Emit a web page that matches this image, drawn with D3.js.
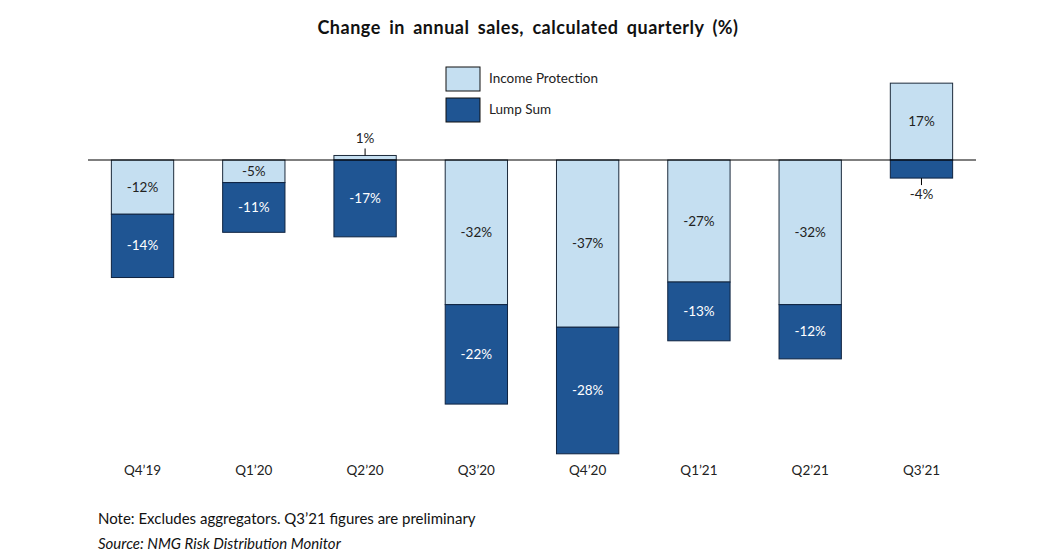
<!DOCTYPE html>
<html>
<head>
<meta charset="utf-8">
<script src="https://cdn.jsdelivr.net/npm/d3@7"></script>
<style>
  body { margin: 0; background: #fff; }
  svg text { font-family: Lato, "Open Sans", sans-serif; }
</style>
</head>
<body>
<div id="chart"></div>
<script>
// donnees
var quarters = ["Q4\u201919", "Q1\u201920", "Q2\u201920", "Q3\u201920", "Q4\u201920", "Q1\u201921", "Q2\u201921", "Q3\u201921"];
var incomeProtection = [-12, -5, 1, -32, -37, -27, -32, 17];
var lumpSum = [-14, -11, -17, -22, -28, -13, -12, -4];
var seriesNames = ["Income Protection", "Lump Sum"];

var width = 1043, height = 558;
var lightBlue = "#c5dff1", darkBlue = "#1f5593";

var svg = d3.select("#chart").append("svg")
  .attr("width", width).attr("height", height);

var x = d3.scaleBand().domain(quarters)
  .range([88, 976]).paddingInner(0.44).paddingOuter(0.21);
var y = d3.scaleLinear().domain([-70, 20]).range([476.4, 69.6]);

// titre
svg.append("text").attr("x", 528).attr("y", 34)
  .attr("text-anchor", "middle").style("font-size", "18px").style("font-weight", "bold")
  .style("letter-spacing", "0.5px").style("word-spacing", "3.5px").attr("fill", "#111")
  .text("Change in annual sales, calculated quarterly (%)");

// empilement : positifs vers le haut, negatifs vers le bas
var segs = [];
quarters.forEach(function(q, i) {
  var pos = 0, neg = 0;
  [incomeProtection[i], lumpSum[i]].forEach(function(v, s) {
    var y0, y1;
    if (v >= 0) { y0 = pos; y1 = pos + v; pos = y1; }
    else { y0 = neg; y1 = neg + v; neg = y1; }
    segs.push({q: q, s: s, v: v, y0: y0, y1: y1});
  });
});

svg.append("g").selectAll("rect").data(segs).enter().append("rect")
  .attr("x", function(d) { return x(d.q); })
  .attr("width", x.bandwidth())
  .attr("y", function(d) { return y(Math.max(d.y0, d.y1)); })
  .attr("height", function(d) { return Math.abs(y(d.y0) - y(d.y1)); })
  .attr("fill", function(d) { return d.s == 0 ? lightBlue : darkBlue; })
  .attr("stroke", function(d) { return d.s == 0 ? "#1d2b3c" : "#0f2340"; })
  .attr("stroke-width", 1);

// ligne du zero
svg.append("line").attr("x1", 88).attr("x2", 976)
  .attr("y1", y(0)).attr("y2", y(0))
  .attr("stroke", "#000").attr("stroke-width", 1.2);

// etiquettes des valeurs
var labels = svg.append("g").style("font-size", "13.5px").attr("text-anchor", "middle");
segs.forEach(function(d) {
  var cx = x(d.q) + x.bandwidth() / 2;
  var small = Math.abs(d.v) < 5;
  var txt = d.v + "%";
  if (!small) {
    labels.append("text").attr("x", cx).attr("y", y((d.y0 + d.y1) / 2) + 4.5)
      .attr("fill", d.s == 0 ? "#222" : "#fff").text(txt);
  } else if (d.v > 0) {
    var top = y(d.y1);
    svg.append("line").attr("x1", cx).attr("x2", cx).attr("y1", top - 7).attr("y2", top)
      .attr("stroke", "#000").attr("stroke-width", 1);
    labels.append("text").attr("x", cx).attr("y", top - 12).attr("fill", "#222").text(txt);
  } else {
    var bot = y(d.y1);
    svg.append("line").attr("x1", cx).attr("x2", cx).attr("y1", bot).attr("y2", bot + 7)
      .attr("stroke", "#000").attr("stroke-width", 1);
    labels.append("text").attr("x", cx).attr("y", bot + 21).attr("fill", "#222").text(txt);
  }
});

// axe des categories
var xAxis = svg.append("g").attr("transform", "translate(0,475)")
  .call(d3.axisBottom(x).tickSize(0).tickPadding(0));
xAxis.select(".domain").remove();
xAxis.selectAll("text").style("font-size", "13.5px").attr("fill", "#222")
  .attr("dy", 0).attr("font-family", null);

// legende
var legend = svg.append("g").attr("transform", "translate(446,67)");
seriesNames.forEach(function(n, i) {
  legend.append("rect").attr("x", 0).attr("y", i * 31).attr("width", 34).attr("height", 24)
    .attr("fill", i == 0 ? lightBlue : darkBlue).attr("stroke", "#111").attr("stroke-width", 1);
  legend.append("text").attr("x", 43).attr("y", i * 31 + 16)
    .style("font-size", "13.5px").attr("fill", "#222").text(n);
});

// notes
svg.append("text").attr("x", 98).attr("y", 524).style("font-size", "15px").attr("fill", "#111")
  .text("Note:  Excludes aggregators. Q3\u201921 figures are preliminary");
svg.append("text").attr("x", 98).attr("y", 549).style("font-size", "15px").style("font-style", "italic")
  .attr("fill", "#111").text("Source: NMG Risk Distribution Monitor");
</script>
</body>
</html>
